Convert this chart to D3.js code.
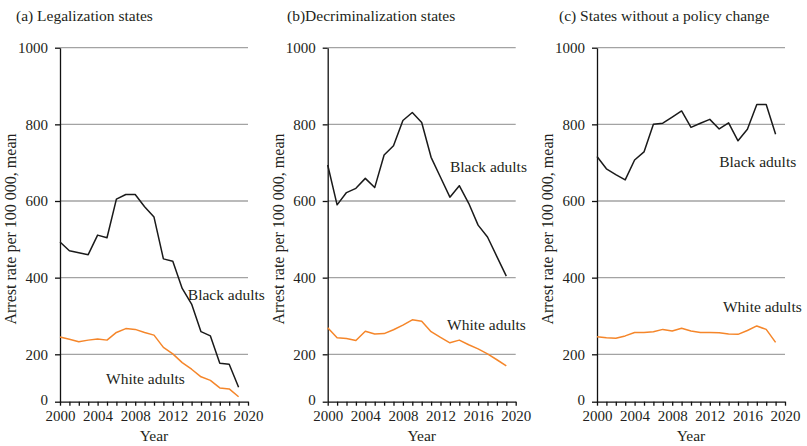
<!DOCTYPE html>
<html>
<head>
<meta charset="utf-8">
<script src="https://cdn.jsdelivr.net/npm/d3@7"></script>
<style>
  body { margin: 0; background: #fff; }
  svg text { font-family: "Liberation Serif", "Times New Roman", serif; fill: #231f20; }
</style>
</head>
<body>
<div id="chart"></div>
<script>
// Data (arrest rate per 100 000, mean)
const years = d3.range(2000, 2020);
const yTicks = [0, 200, 400, 600, 800, 1000];
const xTicks = d3.range(2000, 2021);
const xLabelYears = [2000, 2004, 2008, 2012, 2016, 2020];

const panelTitles = ["(a) Legalization states", "(b)Decriminalization states", "(c) States without a policy change"];

const legalBlack = [493, 470, 465, 460, 511, 504, 605, 617, 617, 585, 558, 449, 443, 372, 331, 259, 248, 162, 158, 61];
const legalWhite = [245, 239, 233, 237, 240, 237, 257, 267, 265, 257, 250, 218, 201, 165, 137, 105, 90, 58, 54, 21];
const decrimBlack = [694, 590, 622, 633, 659, 635, 720, 744, 810, 831, 805, 714, 662, 610, 640, 594, 537, 506, 455, 404];
const decrimWhite = [269, 243, 241, 236, 260, 253, 254, 264, 276, 290, 286, 259, 244, 230, 237, 225, 214, 201, 177, 151];
const noChangeBlack = [716, 684, 669, 655, 707, 728, 800, 803, 819, 835, 792, 803, 813, 788, 804, 757, 787, 852, 852, 774];
const noChangeWhite = [246, 243, 242, 248, 257, 257, 259, 265, 261, 268, 261, 257, 257, 256, 253, 252, 262, 274, 265, 231];

// Label anchors in data units: [year, value]
const blackLabelAt = [[2013.6, 342], [2013.0, 676], [2013.0, 689]];
const whiteLabelAt = [[2004.9, 75], [2012.7, 263], [2013.4, 310]];

const series = [
    { black: legalBlack, white: legalWhite },
    { black: decrimBlack, white: decrimWhite },
    { black: noChangeBlack, white: noChangeWhite }
];

// Layout
const width = 807, height = 446;
const plotTop = 47.7, plotBottom = 401.7, plot200 = 354.3;
const plotWidth = 188;
const panelLeft = [60, 327.7, 597];
const titleX = [16, 287, 559];

const svg = d3.select("#chart").append("svg")
    .attr("width", width)
    .attr("height", height);

svg.append("rect").attr("width", width).attr("height", height).attr("fill", "#fff");

// The original axis squeezes the 0-200 band, so the scale is piecewise
const y = d3.scaleLinear()
    .domain([0, 200, 1000])
    .range([plotBottom, plot200, plotTop]);

panelTitles.forEach((title, i) => {
    const left = panelLeft[i];
    const x = d3.scaleLinear().domain([2000, 2020]).range([left, left + plotWidth]);
    const g = svg.append("g");

    // Title
    g.append("text")
        .attr("x", titleX[i])
        .attr("y", 21)
        .style("font-size", "15.5px")
        .text(title);

    // Gridlines
    g.selectAll(".grid")
        .data(yTicks.filter(d => d > 0))
        .enter().append("line")
        .attr("x1", left)
        .attr("x2", left + plotWidth)
        .attr("y1", d => y(d))
        .attr("y2", d => y(d))
        .attr("stroke", "#a3a3a3")
        .attr("stroke-width", 1.3);

    // Y axis
    const yAxis = g.append("g")
        .attr("transform", `translate(${left},0)`)
        .call(d3.axisLeft(y).tickValues(yTicks).tickSize(5).tickSizeOuter(0).tickPadding(7).tickFormat(d3.format("d")));
    yAxis.selectAll("text").style("font-size", "15px").attr("fill", "#231f20");
    // the zero label sits a little higher, clear of the year labels
    yAxis.selectAll("text").filter(d => d === 0).attr("dy", "0.19em");

    // X axis
    const xAxis = g.append("g")
        .attr("transform", `translate(0,${plotBottom})`)
        .call(d3.axisBottom(x).tickValues(xTicks).tickSize(4).tickSizeOuter(0).tickPadding(5)
            .tickFormat(d => xLabelYears.includes(d) ? d : ""));
    xAxis.selectAll("text").style("font-size", "15px").attr("fill", "#231f20");

    [yAxis, xAxis].forEach(a => {
        a.selectAll("path, line").attr("stroke", "#111").attr("stroke-width", 1.3);
        a.select(".domain").attr("stroke", "#111");
    });

    // Axis titles
    g.append("text")
        .attr("x", left + plotWidth / 2)
        .attr("y", 441)
        .attr("text-anchor", "middle")
        .style("font-size", "15.5px")
        .text("Year");

    g.append("text")
        .attr("transform", `translate(${left - 44},229) rotate(-90)`)
        .attr("text-anchor", "middle")
        .style("font-size", "16px")
        .text("Arrest rate per 100 000, mean");

    // Lines
    const line = d3.line()
        .x((d, j) => x(years[j]))
        .y(d => y(d));

    g.append("path")
        .datum(series[i].white)
        .attr("d", line)
        .attr("fill", "none")
        .attr("stroke", "#f5862a")
        .attr("stroke-width", 1.5)
        .attr("stroke-linejoin", "round");

    g.append("path")
        .datum(series[i].black)
        .attr("d", line)
        .attr("fill", "none")
        .attr("stroke", "#1a1a1a")
        .attr("stroke-width", 1.5)
        .attr("stroke-linejoin", "round");

    // Series labels
    g.append("text")
        .attr("x", x(blackLabelAt[i][0]))
        .attr("y", y(blackLabelAt[i][1]))
        .style("font-size", "15.5px")
        .text("Black adults");

    g.append("text")
        .attr("x", x(whiteLabelAt[i][0]))
        .attr("y", y(whiteLabelAt[i][1]))
        .style("font-size", "15.5px")
        .text("White adults");
});
</script>
</body>
</html>
